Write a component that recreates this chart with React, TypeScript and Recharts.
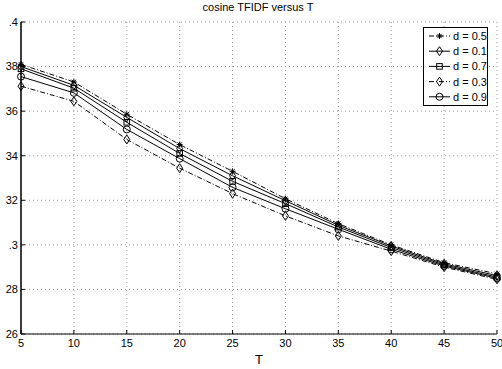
import React from "react";
import { CartesianGrid, Line, LineChart, XAxis, YAxis } from "recharts";

const T = [5, 10, 15, 20, 25, 30, 35, 40, 45, 50];
const d05 = [38.1, 37.31, 35.86, 34.5, 33.3, 32.07, 30.95, 30.0, 29.2, 28.7];
const d01 = [38.0, 37.16, 35.72, 34.32, 33.1, 31.98, 30.88, 29.95, 29.15, 28.62];
const d07 = [37.9, 37.03, 35.5, 34.1, 32.85, 31.85, 30.8, 29.88, 29.1, 28.55];
const d03 = [37.12, 36.44, 34.73, 33.44, 32.3, 31.3, 30.4, 29.72, 29.0, 28.45];
const d09 = [37.55, 36.82, 35.18, 33.87, 32.58, 31.62, 30.7, 29.8, 29.05, 28.5];

const yTicks = [26, 28, 30, 32, 34, 36, 38, 40];
const yTickLabels = ["26", "28", ".3", "32", "34", "36", "38", ".4"];

const series = [
  { key: "d05", name: "d = 0.5", values: d05, marker: "star", dash: "5 2 1 2" },
  { key: "d01", name: "d = 0.1", values: d01, marker: "diamond", dash: undefined },
  { key: "d07", name: "d = 0.7", values: d07, marker: "square", dash: undefined },
  { key: "d03", name: "d = 0.3", values: d03, marker: "diamond", dash: "5 2 1 2" },
  { key: "d09", name: "d = 0.9", values: d09, marker: "circle", dash: undefined },
];

const data = T.map((t, i) => {
  const row: Record<string, number> = { T: t };
  series.forEach((s) => (row[s.key] = s.values[i]));
  return row;
});

const font = "'Liberation Sans Narrow', 'Liberation Sans', Arial, sans-serif";

const Marker = ({ cx, cy, shape }: { cx: number; cy: number; shape: string }) => {
  if (cx == null || cy == null) return null;
  const p = { stroke: "#000", strokeWidth: 1, fill: "none" };
  if (shape === "star") {
    const r = 3;
    const q = 2.2;
    return (
      <g {...p}>
        <line x1={cx - r} y1={cy} x2={cx + r} y2={cy} />
        <line x1={cx} y1={cy - r} x2={cx} y2={cy + r} />
        <line x1={cx - q} y1={cy - q} x2={cx + q} y2={cy + q} />
        <line x1={cx - q} y1={cy + q} x2={cx + q} y2={cy - q} />
      </g>
    );
  }
  if (shape === "diamond") {
    const pts = [
      [cx, cy - 4.5],
      [cx + 3, cy],
      [cx, cy + 4.5],
      [cx - 3, cy],
    ];
    return <polygon {...p} points={pts.map((q) => q.join(",")).join(" ")} />;
  }
  if (shape === "square") {
    return <rect {...p} x={cx - 2.8} y={cy - 2.8} width={5.6} height={5.6} />;
  }
  return <circle {...p} cx={cx} cy={cy} r={3.5} />;
};

const LegendBox = () => (
  <svg width={66} height={80} style={{ display: "block" }}>
    <rect x={0.5} y={0.5} width={64} height={78} fill="#fff" stroke="#000" strokeWidth={1} />
    {series.map((s, i) => {
      const y = 9 + i * 15.2;
      return (
        <g key={s.key}>
          <line x1={6} y1={y} x2={27} y2={y} stroke="#000" strokeWidth={1} strokeDasharray={s.dash} />
          <Marker cx={16.5} cy={y} shape={s.marker} />
          <text x={30} y={y + 4} fontSize={11} fontFamily={font} fill="#000">
            {s.name}
          </text>
        </g>
      );
    })}
  </svg>
);

const App = () => {
  return (
    <div style={{ position: "absolute", left: 0, top: 0, width: 502, height: 369, background: "#fff" }}>
      <LineChart width={502} height={369} data={data} margin={{ top: 22, right: 5, bottom: 0, left: 0 }}>
        <CartesianGrid stroke="#999" strokeDasharray="1 3" />
        <XAxis
          dataKey="T"
          type="number"
          domain={[5, 50]}
          ticks={T}
          interval={0}
          height={35}
          axisLine={{ stroke: "#000", strokeWidth: 1 }}
          tickLine={{ stroke: "#000" }}
          tickSize={-4}
          tickMargin={9}
          tick={{ fill: "#000", fontSize: 11, fontFamily: font }}
        />
        <YAxis
          type="number"
          domain={[26, 40]}
          ticks={yTicks}
          interval={0}
          width={21}
          axisLine={{ stroke: "#000", strokeWidth: 1.5 }}
          tickLine={{ stroke: "#000" }}
          tickSize={-4}
          tickMargin={7}
          tickFormatter={(v: number) => yTickLabels[yTicks.indexOf(v)] ?? String(v)}
          tick={{ fill: "#000", fontSize: 11, fontFamily: font }}
        />
        {series.map((s) => (
          <Line
            key={s.key}
            dataKey={s.key}
            name={s.name}
            type="linear"
            stroke="#000"
            strokeWidth={1}
            strokeDasharray={s.dash}
            isAnimationActive={false}
            dot={(props: any) => (
              <Marker key={`${s.key}-${props.index}`} cx={props.cx} cy={props.cy} shape={s.marker} />
            )}
            activeDot={false}
          />
        ))}
      </LineChart>
      <div style={{ position: "absolute", left: 423, top: 27 }}>
        <LegendBox />
      </div>
      <div
        style={{
          position: "absolute",
          left: 0,
          top: 1,
          width: 516,
          textAlign: "center",
          fontFamily: font,
          fontSize: 11,
          color: "#000",
        }}
      >
        cosine TFIDF versus T
      </div>
      <div
        style={{
          position: "absolute",
          left: 0,
          top: 352,
          width: 518,
          textAlign: "center",
          fontFamily: font,
          fontSize: 13,
          color: "#000",
        }}
      >
        T
      </div>
    </div>
  );
};

export default App;
